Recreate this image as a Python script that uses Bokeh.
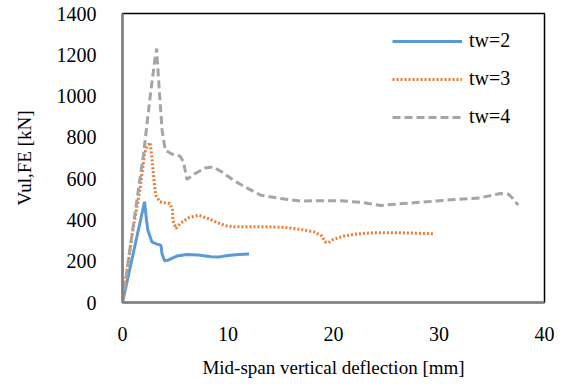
from bokeh.plotting import figure
from bokeh.models import Range1d, FixedTicker, Legend, LegendItem
from bokeh.embed import file_html
from bokeh.resources import INLINE

# ---- data ----
x_tw2 = [0, 2.09, 2.25, 2.4, 2.78, 3.26, 3.64, 3.74, 3.98, 4.36, 5.15, 6.1, 7.2, 8.4, 9.2, 10.0, 11.0, 12.0]
y_tw2 = [0, 488, 410, 351, 294, 283, 278, 238, 202, 206, 225, 233, 230, 222, 221, 228, 233, 235]

x_tw3 = [0, 0.88, 1.68, 2.09, 2.31, 2.62, 2.78, 3.03, 3.15, 3.53, 4.0, 4.48, 4.74, 4.77, 5.06, 5.47,
         6.25, 7.2, 8.1, 9.05, 9.76, 10.55, 13.7, 15.3, 16.9, 18.1, 18.9, 19.2, 19.5, 20.0, 21.0,
         22.2, 23.8, 26.3, 29.5]
y_tw3 = [0, 318, 553, 722, 754, 775, 706, 569, 520, 488, 483, 480, 448, 399, 359, 383,
         410, 423, 407, 386, 372, 367, 367, 364, 354, 343, 322, 294, 290, 306, 322,
         332, 338, 338, 333]

x_tw4 = [0, 1.04, 2.0, 2.62, 3.1, 3.25, 3.3, 3.53, 3.75, 4.05, 4.67, 5.47, 5.78, 5.94, 6.1, 6.9,
         7.85, 8.6, 9.4, 10.5, 11.6, 13.1, 15.0, 16.9, 18.45, 20.7, 22.6, 24.5, 26.0, 27.6, 30.8,
         33.9, 35.8, 36.6, 37.0, 37.5]
y_tw4 = [0, 380, 722, 996, 1190, 1230, 1174, 996, 835, 738, 719, 709, 681, 641, 596, 625,
         652, 657, 633, 593, 560, 520, 504, 491, 493, 493, 485, 470, 477, 483, 496,
         507, 528, 524, 504, 472]

series_labels = ["tw=2", "tw=3", "tw=4"]
x_ticks = [0, 10, 20, 30, 40]
y_ticks = [0, 200, 400, 600, 800, 1000, 1200, 1400]

FONT = "Liberation Serif"

p = figure(width=565, height=386, output_backend="svg", toolbar_location=None,
           x_range=Range1d(0, 40), y_range=Range1d(0, 1400),
           min_border_left=122, min_border_right=21, min_border_top=13, min_border_bottom=84)

p.outline_line_color = "black"
p.outline_line_width = 1.5
p.grid.visible = False

for ax in (p.xaxis[0], p.yaxis[0]):
    ax.axis_line_color = "#808080"
    ax.axis_line_width = 2.5
    ax.major_tick_line_color = None
    ax.minor_tick_line_color = None
    ax.major_label_text_font = FONT
    ax.major_label_text_font_size = "20px"
    ax.major_label_text_color = "black"
    ax.axis_label_text_font = FONT
    ax.axis_label_text_font_size = "19px"
    ax.axis_label_text_font_style = "normal"
    ax.axis_label_text_color = "black"

p.xaxis.ticker = FixedTicker(ticks=x_ticks)
p.yaxis.ticker = FixedTicker(ticks=y_ticks)
p.xaxis.axis_label = "Mid-span vertical deflection [mm]"
p.yaxis.axis_label = "Vul,FE [kN]"
p.xaxis.major_label_standoff = 18
p.yaxis.major_label_standoff = 20
p.xaxis.axis_label_standoff = 13
p.yaxis.axis_label_standoff = 19

r2 = p.line(x_tw2, y_tw2, line_color="#5B9BD5", line_width=3)
r3 = p.line(x_tw3, y_tw3, line_color="#ED7D31", line_width=3, line_dash="2 2")
r4 = p.line(x_tw4, y_tw4, line_color="#A5A5A5", line_width=3, line_dash="8 4")

legend = Legend(items=[LegendItem(label=series_labels[0], renderers=[r2]),
                       LegendItem(label=series_labels[1], renderers=[r3]),
                       LegendItem(label=series_labels[2], renderers=[r4])],
                location=(270, 174), border_line_color=None, background_fill_alpha=0,
                padding=0, margin=0, spacing=15, glyph_width=70, glyph_height=20,
                label_height=20, label_standoff=7, label_text_font=FONT,
                label_text_font_size="20px", label_text_color="black")
p.add_layout(legend)

open("out.html", "w").write(file_html(p, INLINE))
